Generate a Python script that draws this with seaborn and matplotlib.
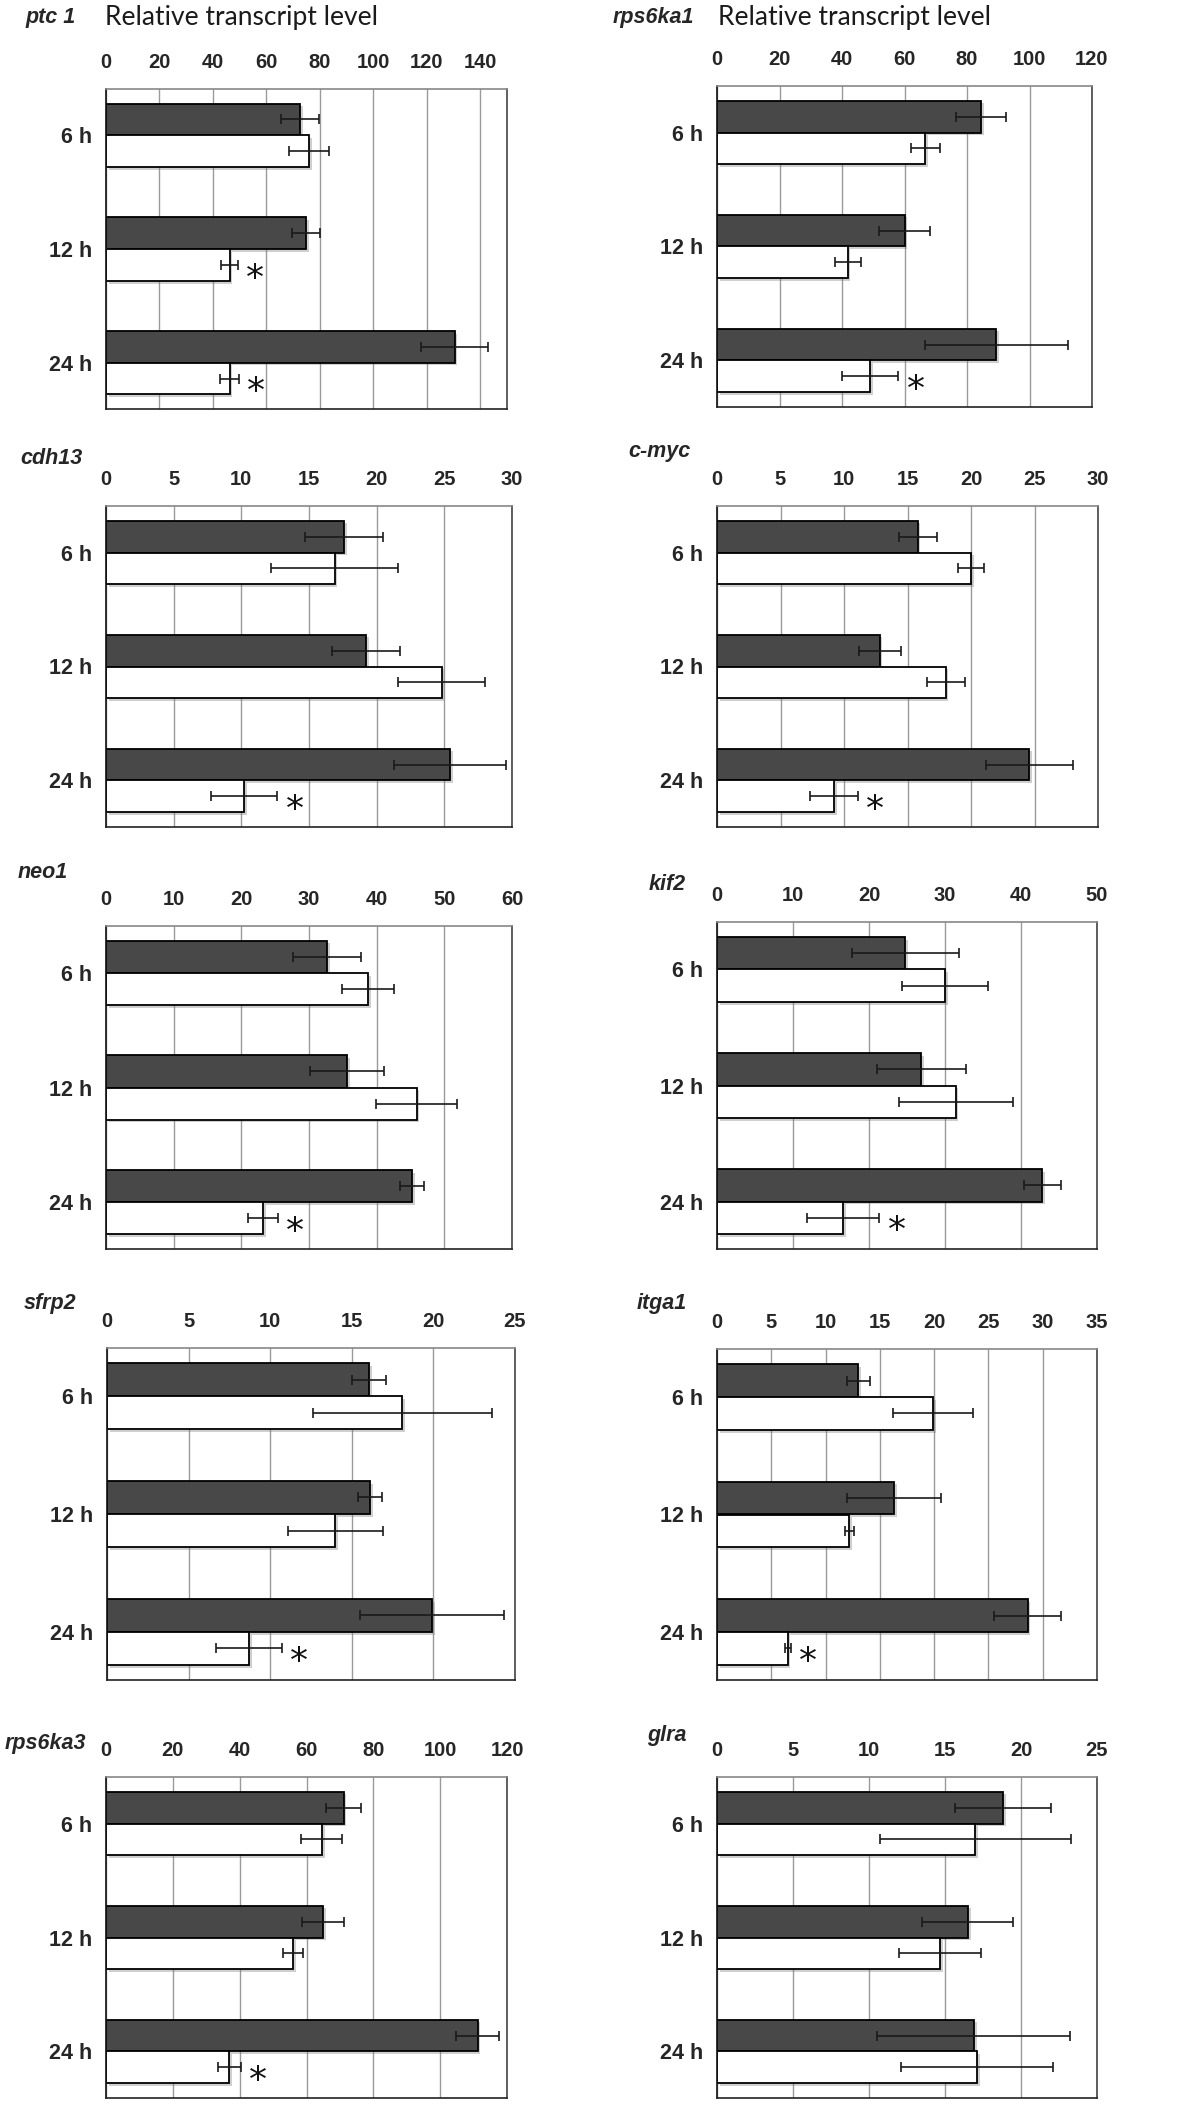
import numpy as np
import pandas as pd
import seaborn as sns
import matplotlib.pyplot as plt
import matplotlib.patheffects as pe
from matplotlib.ticker import MultipleLocator, FixedLocator

# ---- data ----
genes = ['ptc 1', 'rps6ka1', 'cdh13', 'c-myc', 'neo1', 'kif2', 'sfrp2', 'itga1', 'rps6ka3', 'glra']
times = ['6 h', '12 h', '24 h']
groups = ['control', 'treated']

dark_means = [[72.6, 74.9, 130.4], [84.6, 60.0, 89.4], [17.6, 19.2, 25.4], [15.8, 12.8, 24.6],
              [32.7, 35.6, 45.2], [24.8, 26.9, 42.8], [16.05, 16.1, 19.9], [13.0, 16.3, 28.6],
              [71.1, 64.9, 111.2], [18.8, 16.5, 16.9]]
dark_errs = [[7.0, 5.2, 12.5], [8.0, 8.1, 23.0], [2.9, 2.5, 4.15], [1.5, 1.65, 3.45],
             [5.0, 5.45, 1.8], [7.1, 5.8, 2.4], [1.05, 0.75, 4.4], [1.05, 4.3, 3.05],
             [5.35, 6.2, 6.35], [3.15, 3.0, 6.35]]
white_means = [[76.1, 46.2, 46.2], [66.6, 41.8, 49.0], [16.9, 24.8, 10.2], [20.0, 18.0, 9.2],
               [38.7, 45.9, 23.2], [30.0, 31.4, 16.6], [18.1, 14.0, 8.7], [19.9, 12.2, 6.5],
               [64.6, 56.1, 36.9], [17.0, 14.7, 17.1]]
white_errs = [[7.5, 3.0, 3.5], [4.6, 4.2, 9.0], [4.7, 3.2, 2.45], [1.0, 1.5, 1.9],
              [3.8, 6.0, 2.2], [5.65, 7.5, 4.75], [5.5, 2.9, 2.0], [3.7, 0.45, 0.28],
              [6.1, 3.0, 3.4], [6.3, 2.7, 5.0]]
stars = [[0, 1, 1], [0, 0, 1], [0, 0, 1], [0, 0, 1], [0, 0, 1],
         [0, 0, 1], [0, 0, 1], [0, 0, 1], [0, 0, 1], [0, 0, 0]]
x_max = [150, 120, 30, 30, 60, 50, 25, 35, 120, 25]
x_step = [20, 20, 5, 5, 10, 10, 5, 5, 20, 5]

# ---- layout (pixels): axes left, top, right, bottom, gene label x, gene label y ----
W, H = 1200, 2110
layout = [(106, 89, 507, 409, 25, 17), (717, 86, 1092, 407, 613, 17),
          (106, 506, 512, 827, 20, 458), (717, 506, 1098, 827, 628, 452),
          (106, 926, 512, 1249, 18, 873), (717, 922, 1097, 1249, 649, 885),
          (107, 1348, 515, 1680, 24, 1303), (717, 1349, 1097, 1680, 637, 1303),
          (106, 1777, 507, 2098, 5, 1743), (717, 1777, 1097, 2098, 647, 1735)]

DARK = '#484848'
NARROW = ['Liberation Sans Narrow', 'Liberation Sans', 'DejaVu Sans']


def build_frame(i):
    rows = []
    for j, t in enumerate(times):
        rows.append({'time': t, 'group': groups[0], 'value': dark_means[i][j], 'err': dark_errs[i][j], 'star': 0})
        rows.append({'time': t, 'group': groups[1], 'value': white_means[i][j], 'err': white_errs[i][j], 'star': stars[i][j]})
    return pd.DataFrame(rows)


def panel_settings(ax, i):
    ax.set_xlim(0, x_max[i])
    ax.xaxis.set_major_locator(MultipleLocator(x_step[i]))
    ax.xaxis.tick_top()
    ax.tick_params(axis='x', which='major', length=0, pad=12, labelsize=14.5)
    for lbl in ax.get_xticklabels():
        lbl.set_fontweight('bold')
        lbl.set_family(NARROW)
    ax.tick_params(axis='y', which='major', length=0, pad=10, labelsize=15.5)
    for lbl in ax.get_yticklabels():
        lbl.set_fontweight('bold')
        lbl.set_family(NARROW)
    ax.yaxis.set_minor_locator(FixedLocator([-0.5, 0.5, 1.5, 2.5]))
    ax.tick_params(axis='y', which='minor', length=5, width=1, color='#777777', direction='out')
    ax.set_xlabel('')
    ax.set_ylabel('')
    ax.grid(axis='x', color='#9a9a9a', linewidth=1)
    ax.grid(axis='y', visible=False)
    ax.set_axisbelow(True)
    ax.spines['left'].set_color('#111111')
    ax.spines['bottom'].set_color('#222222')
    ax.spines['top'].set_color('#888888')
    ax.spines['right'].set_color('#444444')
    for s in ax.spines.values():
        s.set_linewidth(1.2)
        s.set_visible(True)


def draw_panel(fig, i):
    l, t, r, b, lx, ly = layout[i]
    ax = fig.add_axes([l / W, 1 - b / H, (r - l) / W, (b - t) / H])
    df = build_frame(i)
    sns.barplot(data=df, x='value', y='time', hue='group', order=times, hue_order=groups,
                orient='h', palette=[DARK, 'white'], edgecolor='black', linewidth=1.3,
                width=0.56, gap=0, errorbar=None, legend=False, ax=ax)

    for p in list(ax.patches):
        p.set_path_effects([pe.SimplePatchShadow(offset=(2, -2), shadow_rgbFace='#777777', alpha=0.35),
                            pe.Normal()])
        w = p.get_width()
        yc = p.get_y() + p.get_height() / 2
        j = int(round(yc))
        g = groups[0] if yc < j else groups[1]
        row = df[(df['time'] == times[j]) & (df['group'] == g)].iloc[0]
        ax.errorbar(w, yc, xerr=row['err'], fmt='none', ecolor='#1a1a1a', elinewidth=1.2,
                    capsize=3.5, capthick=1.2, zorder=5)
        if row['star']:
            ax.annotate('*', xy=(w + row['err'], yc), xytext=(6, -17), textcoords='offset points',
                        ha='left', va='baseline', fontsize=26, color='#111111',
                        family=['DejaVu Sans'])

    panel_settings(ax, i)
    fig.text(lx / W, 1 - ly / H, genes[i], ha='left', va='center', fontsize=15.5,
             fontweight='bold', fontstyle='italic', family=['Liberation Sans', 'DejaVu Sans'])
    return ax


def make_plot():
    sns.set_style('white')
    plt.rcParams['font.family'] = ['Liberation Sans', 'DejaVu Sans']
    fig = plt.figure(figsize=(W / 100, H / 100), dpi=100)
    fig.patch.set_facecolor('white')
    for i in range(len(genes)):
        draw_panel(fig, i)
    for x0 in (105, 718):
        fig.text(x0 / W, 1 - 17 / H, 'Relative transcript level', ha='left', va='center',
                 fontsize=19, family=['Lato', 'DejaVu Sans'], color='#1a1a1a')
    fig.savefig('out.png', dpi=100, facecolor='white')


if __name__ == '__main__':
    make_plot()
